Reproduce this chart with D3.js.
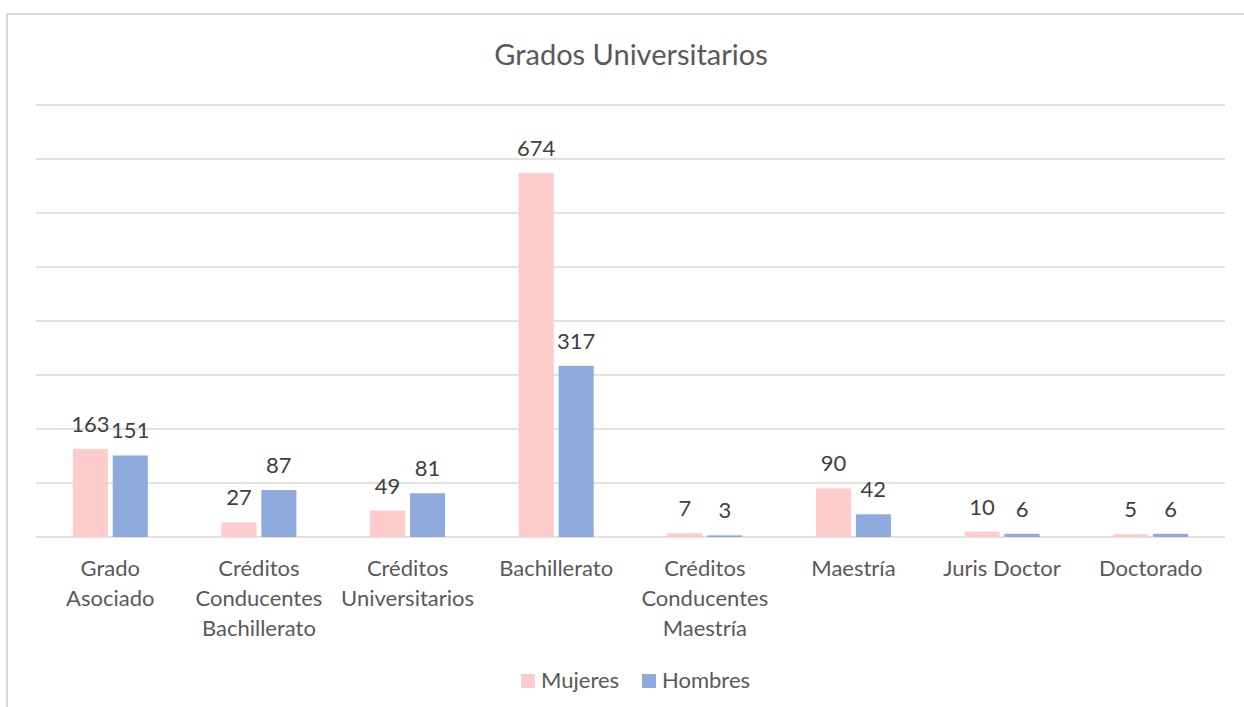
<!DOCTYPE html>
<html><head><meta charset="utf-8">
<script src="https://cdn.jsdelivr.net/npm/d3@7"></script>
<style>body{margin:0;background:#fff;overflow:hidden;} svg{display:block;font-family:Lato,"Open Sans",sans-serif;}</style>
</head><body>
<script>
const categories = [["Grado","Asociado"],["Créditos","Conducentes","Bachillerato"],["Créditos","Universitarios"],["Bachillerato"],["Créditos","Conducentes","Maestría"],["Maestría"],["Juris Doctor"],["Doctorado"]];
const seriesNames = ["Mujeres","Hombres"];
const mujeres = [163,27,49,674,7,90,10,5];
const hombres = [151,87,81,317,3,42,6,6];
const gridTicks = [0,100,200,300,400,500,600,700,800];
const colors = ["#ffcccc","#8faadc"];

const W=1244,H=707;
const svg=d3.select("body").append("svg").attr("width",W).attr("height",H);
svg.append("rect").attr("x",7).attr("y",14).attr("width",1250).attr("height",720).attr("fill","none").attr("stroke","#d9d9d9").attr("stroke-width",2);

const pLeft=36,pRight=1225,pTop=105,pBottom=537;
const y=d3.scaleLinear().domain([0,800]).range([pBottom,pTop]);
const x=d3.scaleBand().domain(d3.range(categories.length)).range([pLeft,pRight]);
const x1=d3.scaleBand().domain([0,1]).range([x.bandwidth()/2-37.5,x.bandwidth()/2+37.5]).paddingInner(0.12);

svg.append("g").selectAll("line").data(gridTicks).join("line")
 .attr("x1",pLeft).attr("x2",pRight).attr("y1",d=>y(d)).attr("y2",d=>y(d))
 .attr("stroke","#d9d9d9").attr("stroke-width",1.5);

svg.append("text").attr("x",631).attr("y",65).attr("text-anchor","middle")
 .attr("font-size",29).attr("fill","#595959").text("Grados Universitarios");

const data=[mujeres,hombres];
data.forEach((vals,s)=>{
  const g=svg.append("g");
  g.selectAll("rect").data(vals).join("rect")
   .attr("x",(d,i)=>x(i)+x1(s)).attr("width",x1.bandwidth())
   .attr("y",d=>y(d)).attr("height",d=>pBottom-y(d)).attr("fill",colors[s]);
  g.selectAll("text").data(vals).join("text")
   .attr("x",(d,i)=>x(i)+x1(s)+x1.bandwidth()/2).attr("y",d=>y(d)-17)
   .attr("text-anchor","middle").attr("font-size",22).attr("fill","#404040").text(d=>d);
});

const xl=svg.append("g");
categories.forEach((lines,i)=>{
  const t=xl.append("text").attr("text-anchor","middle").attr("font-size",22).attr("fill","#595959");
  lines.forEach((ln,j)=>t.append("tspan").attr("x",x(i)+x.bandwidth()/2).attr("y",576+j*30).text(ln));
});

const leg=svg.append("g");
const legX=[521,642];
seriesNames.forEach((n,s)=>{
  leg.append("rect").attr("x",legX[s]).attr("y",674).attr("width",14).attr("height",14).attr("fill",colors[s]);
  leg.append("text").attr("x",legX[s]+20).attr("y",688).attr("font-size",22).attr("fill","#595959").text(n);
});
</script>
</body></html>
